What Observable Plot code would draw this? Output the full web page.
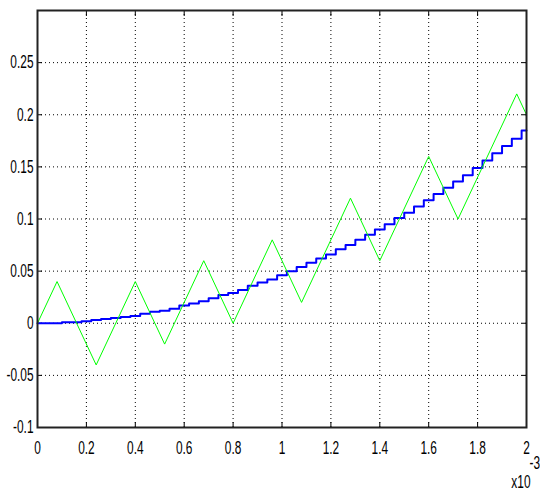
<!DOCTYPE html>
<html>
<head>
<meta charset="utf-8">
<script src="https://cdn.jsdelivr.net/npm/d3@7"></script>
<script src="https://cdn.jsdelivr.net/npm/@observablehq/plot@0.6"></script>
<style>
  html, body { margin: 0; padding: 0; background: #fff; }
  #chart svg { display: block; }
</style>
</head>
<body>
<div id="chart"></div>
<script>
// Tick values (x in units of 1e-3)
const xTicks = [0, 0.2, 0.4, 0.6, 0.8, 1, 1.2, 1.4, 1.6, 1.8, 2];
const yTicks = [-0.1, -0.05, 0, 0.05, 0.1, 0.15, 0.2, 0.25];

// Green triangle-wave series (vertices)
const greenX = [0, 0.08, 0.24, 0.4, 0.52, 0.68, 0.8, 0.96, 1.08, 1.28, 1.4, 1.6, 1.72, 1.96, 2];
const greenY = [0, 0.04, -0.04, 0.04, -0.02, 0.06, 0, 0.08, 0.02, 0.12, 0.06, 0.16, 0.1, 0.22, 0.2];

// Blue staircase series (sample points)
const blueX = [0, 0.04, 0.08, 0.12, 0.16, 0.2, 0.24, 0.28, 0.32, 0.36, 0.4, 0.44, 0.48, 0.52, 0.56, 0.6,
  0.64, 0.68, 0.72, 0.76, 0.8, 0.84, 0.88, 0.92, 0.96, 1, 1.04, 1.08, 1.12, 1.16, 1.2, 1.24, 1.28, 1.32,
  1.36, 1.4, 1.44, 1.48, 1.52, 1.56, 1.6, 1.64, 1.68, 1.72, 1.76, 1.8, 1.84, 1.88, 1.92, 1.96, 2];
const blueY = [0, 0, 0, 0.001, 0.001, 0.002, 0.003, 0.004, 0.005, 0.006, 0.007, 0.009, 0.011, 0.012, 0.014, 0.017,
  0.019, 0.021, 0.024, 0.027, 0.029, 0.032, 0.036, 0.039, 0.042, 0.046, 0.050, 0.054, 0.058, 0.062, 0.066, 0.071,
  0.075, 0.080, 0.085, 0.090, 0.095, 0.101, 0.106, 0.112, 0.118, 0.124, 0.130, 0.136, 0.142, 0.149, 0.156, 0.163,
  0.170, 0.177, 0.185];

// Axis exponent annotation
const exponentBase = ["x10"];
const exponentPower = ["-3"];

const green = greenX.map((x, i) => ({x, y: greenY[i]}));
const blue = blueX.map((x, i) => ({x, y: blueY[i]}));

const font = "'Liberation Sans', Arial, sans-serif";
const blank = () => "";

const chart = Plot.plot({
  width: 540,
  height: 489,
  marginLeft: 37,
  marginRight: 14,
  marginTop: 10,
  marginBottom: 62,
  style: {fontFamily: font, fontSize: "18px", color: "#000", background: "#fff"},
  x: {domain: [0, 2]},
  y: {domain: [-0.1, 0.3]},
  marks: [
    Plot.gridX(xTicks, {stroke: "#000", strokeOpacity: 1, strokeDasharray: "1,3"}),
    Plot.gridY(yTicks, {stroke: "#000", strokeOpacity: 1, strokeDasharray: "1,3"}),
    Plot.axisX(xTicks, {anchor: "bottom", tickSize: -5, tickPadding: 19, tickFormat: d => String(d), label: null, stroke: "#000"}),
    Plot.axisX(xTicks, {anchor: "top", tickSize: -5, tickFormat: blank, label: null, stroke: "#000"}),
    Plot.axisY(yTicks, {anchor: "left", tickSize: -5, tickPadding: 9, tickFormat: d => String(d), label: null, stroke: "#000"}),
    Plot.axisY(yTicks, {anchor: "right", tickSize: -5, tickFormat: blank, label: null, stroke: "#000"}),
    Plot.line(blue, {x: "x", y: "y", curve: "step", stroke: "#0000ff", strokeWidth: 2}),
    Plot.line(green, {x: "x", y: "y", stroke: "#00ff00", strokeWidth: 1}),
    Plot.frame({stroke: "#222", strokeWidth: 2}),
    Plot.text(exponentBase, {frameAnchor: "bottom-right", dx: 4, dy: 55, fontSize: 18, textAnchor: "end", lineAnchor: "middle", fill: "#000"}),
    Plot.text(exponentPower, {frameAnchor: "bottom-right", dx: 3, dy: 36, fontSize: 18, textAnchor: "start", lineAnchor: "middle", fill: "#000"})
  ]
});

document.getElementById("chart").appendChild(chart);

// Condense the glyphs horizontally to mimic the narrow reference font
d3.select(chart).selectAll("text").each(function() {
  const t = this.textContent;
  if (!t) return;
  const w = this.getComputedTextLength();
  if (w > 0) {
    this.setAttribute("textLength", (w * 0.66).toFixed(2));
    this.setAttribute("lengthAdjust", "spacingAndGlyphs");
  }
});
</script>
</body>
</html>
